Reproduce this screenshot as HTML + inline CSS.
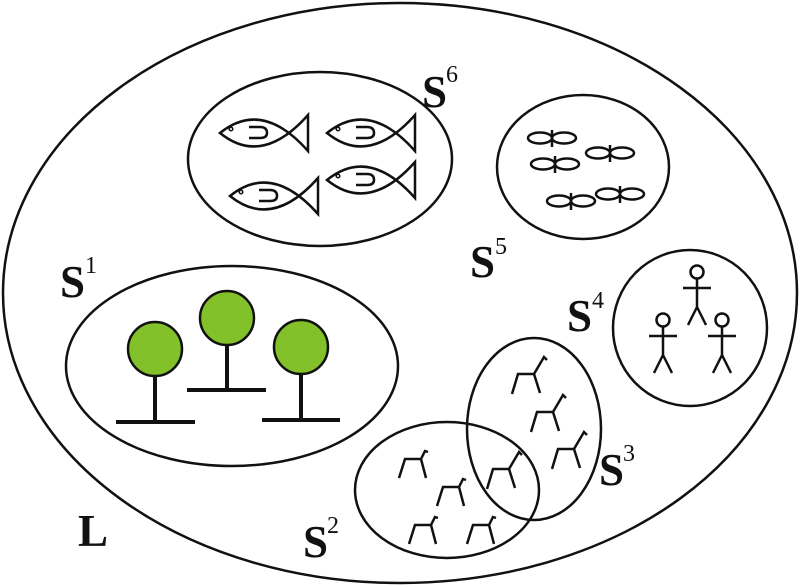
<!DOCTYPE html>
<html><head><meta charset="utf-8"><style>
html,body{margin:0;padding:0;background:#fff;}
svg{display:block}
.S{font-family:"Liberation Serif",serif;font-weight:bold;font-size:45px;fill:#111}
.p{font-family:"Liberation Serif",serif;font-size:24px;fill:#111}
</style></head><body>
<svg width="800" height="587" viewBox="0 0 800 587" xmlns="http://www.w3.org/2000/svg">
<defs>
<g id="fish" fill="none" stroke="#111" stroke-width="2.5">
<path d="M0,0 Q42,-34 88,18 L88,-18 Q42,34 0,0 Z"/>
<circle cx="11" cy="-4" r="1.8" stroke-width="1.5"/>
<path d="M29,-6 L40,-6 Q47,-6 47,0 Q47,5 40,5 L29,5"/>
</g>
<g id="prop" fill="none" stroke="#111" stroke-width="2.5">
<ellipse cx="-12" cy="0" rx="12" ry="5.5"/>
<ellipse cx="12" cy="0" rx="12" ry="5.5"/>
<line x1="0" y1="-8" x2="0" y2="9"/>
</g>
<g id="horse" fill="none" stroke="#111" stroke-width="2.5">
<path d="M-6,20 L0,0 L16,0 L22,19 M16,0 L26,-17 L29,-14"/>
</g>
<g id="horse2" fill="none" stroke="#111" stroke-width="2.5">
<path d="M-6,19 L0,0 L16,0 L21,19 M16,0 L20,-8 L23,-7"/>
</g>
<g id="man" fill="none" stroke="#111" stroke-width="2.5">
<circle cx="0" cy="0" r="6.5"/>
<path d="M0,6.5 L0,35 M-14,16 L14,16 M0,35 L-9,53 M0,35 L9,53"/>
</g>
</defs>
<g fill="none" stroke="#111" stroke-width="2.5">
<ellipse cx="400" cy="293" rx="397" ry="290"/>
<ellipse cx="320" cy="159" rx="132" ry="87"/>
<ellipse cx="583" cy="167" rx="86" ry="72"/>
<ellipse cx="232" cy="366" rx="166" ry="100"/>
<ellipse cx="690" cy="328" rx="77" ry="78"/>
<ellipse cx="534" cy="429" rx="67" ry="91"/>
<ellipse cx="447" cy="490" rx="92" ry="68"/>
</g>
<use href="#fish" x="220" y="133"/>
<use href="#fish" x="327" y="133"/>
<use href="#fish" x="230" y="196"/>
<use href="#fish" x="327" y="180"/>
<use href="#prop" x="552" y="138"/>
<use href="#prop" x="610" y="153"/>
<use href="#prop" x="555" y="164"/>
<use href="#prop" x="620" y="194"/>
<use href="#prop" x="571" y="201"/>
<g stroke="#111" stroke-width="4" fill="none">
<path d="M155,376 L155,422 M116,422 L195,422"/>
<path d="M227,345 L227,390 M187,390 L266,390"/>
<path d="M301,374 L301,420 M262,420 L340,420"/>
</g>
<g fill="#82c12a" stroke="#111" stroke-width="2.5">
<circle cx="155" cy="349" r="27"/>
<circle cx="227" cy="318" r="27"/>
<circle cx="301" cy="347" r="27"/>
</g>
<use href="#man" x="697" y="272"/>
<use href="#man" x="663" y="320"/>
<use href="#man" x="722" y="320"/>
<use href="#horse" x="518" y="374"/>
<use href="#horse" x="537" y="412"/>
<use href="#horse" x="558" y="449"/>
<use href="#horse" x="493" y="469"/>
<use href="#horse2" x="405" y="459"/>
<use href="#horse2" x="443" y="487"/>
<use href="#horse2" x="415" y="525"/>
<use href="#horse2" x="473" y="525"/>
<text class="S" x="422" y="107">S</text><text class="p" x="446" y="82">6</text>
<text class="S" x="470" y="277">S</text><text class="p" x="495" y="254">5</text>
<text class="S" x="60" y="297">S</text><text class="p" x="85" y="273">1</text>
<text class="S" x="567" y="331">S</text><text class="p" x="592" y="308">4</text>
<text class="S" x="599" y="485">S</text><text class="p" x="623" y="461">3</text>
<text class="S" x="303" y="557">S</text><text class="p" x="327" y="533">2</text>
<text class="S" x="78" y="546">L</text>
</svg>
</body></html>
